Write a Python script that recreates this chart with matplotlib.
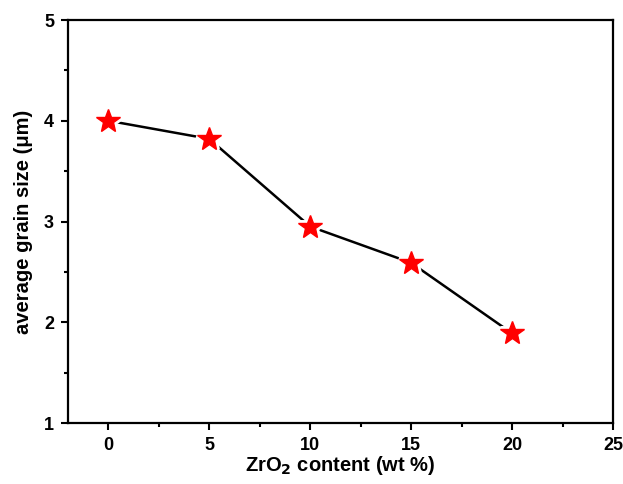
import matplotlib.pyplot as plt
from matplotlib.ticker import MultipleLocator

plt.rcParams['font.family'] = ['Liberation Sans', 'DejaVu Sans']
plt.rcParams['font.weight'] = 'bold'

# ZrO2 content vs average grain size
zro2 = [0, 5, 10, 15, 20]
grain_size = [4.0, 3.82, 2.95, 2.59, 1.89]

fig = plt.figure(figsize=(6.23, 4.84), dpi=100)
ax = fig.add_axes([68 / 623, 61 / 484, 545 / 623, 403 / 484])

ax.plot(zro2, grain_size, color='black', lw=1.8, zorder=2)
# white halo gives the gap between line and marker
ax.plot(zro2, grain_size, ls='none', marker='*', ms=18, color='white',
        mec='white', mew=5, zorder=3)
ax.plot(zro2, grain_size, ls='none', marker='*', ms=18, color='#ff0000',
        mec='#ff0000', zorder=4)

ax.set_xlim(-2, 25)
ax.set_ylim(1, 5)
ax.xaxis.set_major_locator(MultipleLocator(5))
ax.xaxis.set_minor_locator(MultipleLocator(2.5))
ax.yaxis.set_major_locator(MultipleLocator(1))
ax.yaxis.set_minor_locator(MultipleLocator(0.5))
ax.tick_params(which='both', direction='out', width=1.5, labelsize=13,
               top=False, right=False)
ax.tick_params(which='major', length=5, pad=5)
ax.tick_params(which='minor', length=3)
for s in ax.spines.values():
    s.set_linewidth(1.6)

ax.set_xlabel('ZrO$_\\mathbf{2}$ content (wt %)', fontsize=14.5,
              fontweight='bold', labelpad=0)
ax.set_ylabel('average grain size (\u03bcm)', fontsize=14.5,
              fontweight='bold', labelpad=8)

fig.savefig('out.png', dpi=100)
